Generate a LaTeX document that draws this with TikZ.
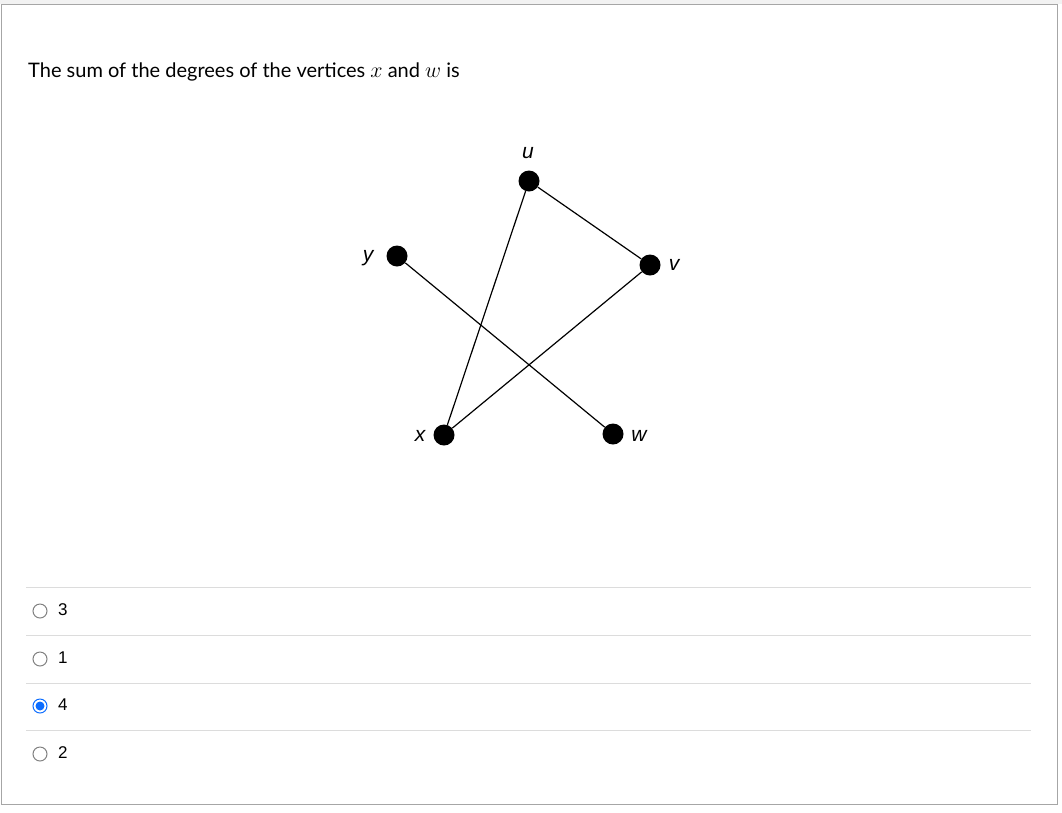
\RequirePackage{fix-cm}
\documentclass[tikz,border=0pt]{standalone}
\usepackage{fontspec}
\setmainfont{Lato}
\newfontfamily\arialfont{Liberation Sans}
\definecolor{framegray}{HTML}{A6A6A6}
\definecolor{rulegray}{HTML}{DCDCDC}
\definecolor{radioblue}{HTML}{0B6CFF}
\newcommand{\bigmath}[1]{{\fontsize{22}{22}\selectfont$#1$}}

\begin{document}
\begin{tikzpicture}[x=1pt, y=-1pt,
  vertex/.style={circle, fill=black, inner sep=0pt, minimum size=21pt},
  vlabel/.style={anchor=base, inner sep=0pt, font=\arialfont\itshape\fontsize{21}{21}\selectfont},
  radio/.style={circle, draw=gray, line width=1pt, inner sep=0pt, minimum size=14pt},
  answer/.style={anchor=west, inner sep=0pt, font=\arialfont\fontsize{17}{17}\selectfont}]
  \useasboundingbox (0, 0) rectangle (1062, 812);
  \fill [gray!10] (0, 0) rectangle (1062, 4);
  \draw [framegray] (1, 4) -- (1057, 4) -- (1057, 804) -- (1, 804) -- cycle;
  \node [anchor=base west, inner sep=0pt, font=\fontsize{20}{20}\selectfont] (title) at (28, 77) {The sum of the degrees of the vertices \bigmath{x} and \bigmath{w} is};
  % the graph
  \node [vertex] (u) at (529, 181) {};
  \node [vertex] (v) at (650, 265) {};
  \node [vertex] (y) at (397, 256) {};
  \node [vertex] (x) at (444, 435) {};
  \node [vertex] (w) at (613, 434) {};
  \node [vlabel] (lu) at (528, 158) {u};
  \node [vlabel] (lv) at (674, 270) {v};
  \node [vlabel] (ly) at (368, 261) {y};
  \node [vlabel] (lx) at (420, 441) {x};
  \node [vlabel] (lw) at (639, 441) {w};
  \draw [line width=1.2pt] (u) -- (x);
  \draw [line width=1.2pt] (u) -- (v);
  \draw [line width=1.2pt] (v) -- (x);
  \draw [line width=1.2pt] (y) -- (w);
  % the answers
  \foreach \ry in {587, 635, 683, 730}
    \draw [rulegray] (26, \ry) -- (1031, \ry);
  \node [radio] (r3) at (40, 611) {};
  \node [answer] (a3) at (58, 610) {3};
  \node [radio] (r1) at (40, 659) {};
  \node [answer] (a1) at (58, 658) {1};
  \node [radio, draw=radioblue] (r4) at (40, 706) {};
  \fill [radioblue] (r4) circle (4.5);
  \node [answer] (a4) at (58, 705) {4};
  \node [radio] (r2) at (40, 754) {};
  \node [answer] (a2) at (58, 753) {2};
\end{tikzpicture}
\end{document}
